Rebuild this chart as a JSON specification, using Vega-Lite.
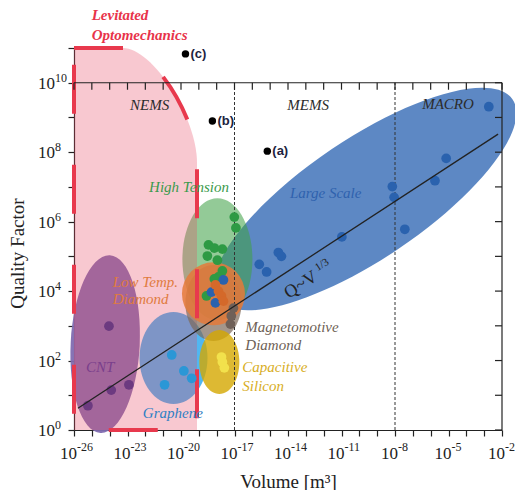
{
  "$schema": "https://vega.github.io/schema/vega-lite/v6.json",
  "width": 428,
  "height": 382,
  "autosize": {"type": "none"},
  "padding": {"left": 74, "top": 48, "right": 13, "bottom": 60},
  "background": "white",
  "config": {
    "view": {"stroke": null},
    "axis": {"grid": false, "domainColor": "#222", "tickColor": "#222", "labelColor": "#222", "titleColor": "#222", "labelFont": "Liberation Serif", "titleFont": "Liberation Serif", "titleFontWeight": "normal", "domainWidth": 1.2, "tickWidth": 1.2}
  },
  "datasets": {
    "ell": [
      {"k": "blue", "x": 2.09e-10, "y": 4.47e6},
      {"k": "green", "x": 1.10e-18, "y": 8.32e4},
      {"k": "graphene", "x": 3.80e-21, "y": 117.5},
      {"k": "cnt", "x": 5.62e-25, "y": 299},
      {"k": "pink", "x": 2.81e-23, "y": 3.162e5},
      {"k": "brown", "x": 6.61e-19, "y": 4.57e3},
      {"k": "orange", "x": 6.61e-19, "y": 8.32e3},
      {"k": "yellow", "x": 1.41e-18, "y": 91.2}
    ],
    "dots": [
      {"g": "cnt", "x": 9.12e-25, "y": 977},
      {"g": "cnt", "x": 1.23e-24, "y": 14.1},
      {"g": "cnt", "x": 1.20e-23, "y": 20.0},
      {"g": "cnt", "x": 6.03e-26, "y": 5.0},
      {"g": "graphene", "x": 3.02e-21, "y": 144.5},
      {"g": "graphene", "x": 1.445e-20, "y": 50.1},
      {"g": "graphene", "x": 3.98e-20, "y": 30.9},
      {"g": "graphene", "x": 1.20e-21, "y": 20.0},
      {"g": "green", "x": 9.77e-18, "y": 1.349e6},
      {"g": "green", "x": 1.20e-17, "y": 6.61e5},
      {"g": "green", "x": 3.47e-19, "y": 2.14e5},
      {"g": "green", "x": 7.41e-19, "y": 1.74e5},
      {"g": "green", "x": 2.09e-18, "y": 1.62e5},
      {"g": "green", "x": 3.02e-19, "y": 1.02e5},
      {"g": "green", "x": 1.10e-18, "y": 7.76e4},
      {"g": "green", "x": 2.09e-18, "y": 3.80e4},
      {"g": "green", "x": 1.26e-18, "y": 2.57e4},
      {"g": "green", "x": 7.41e-19, "y": 2.24e4},
      {"g": "green", "x": 2.69e-19, "y": 7.24e3},
      {"g": "blue", "x": 5.13e-19, "y": 9.33e3},
      {"g": "blue", "x": 8.51e-19, "y": 4.57e3},
      {"g": "blue", "x": 2.40e-18, "y": 2.09e4},
      {"g": "blue", "x": 2.45e-16, "y": 5.89e4},
      {"g": "blue", "x": 6.31e-16, "y": 3.55e4},
      {"g": "blue", "x": 2.88e-15, "y": 1.29e5},
      {"g": "blue", "x": 4.27e-15, "y": 1.0e5},
      {"g": "blue", "x": 1.047e-11, "y": 3.63e5},
      {"g": "blue", "x": 7.08e-9, "y": 1.02e7},
      {"g": "blue", "x": 8.91e-9, "y": 5.01e6},
      {"g": "blue", "x": 3.55e-8, "y": 6.03e5},
      {"g": "blue", "x": 1.74e-6, "y": 1.51e7},
      {"g": "blue", "x": 7.41e-6, "y": 6.61e7},
      {"g": "blue", "x": 1.82e-3, "y": 2.04e9},
      {"g": "orange", "x": 8.51e-19, "y": 1.51e4},
      {"g": "orange", "x": 1.26e-18, "y": 1.0e4},
      {"g": "orange", "x": 1.86e-18, "y": 7.24e3},
      {"g": "orange", "x": 2.40e-18, "y": 5.13e3},
      {"g": "brown", "x": 8.71e-18, "y": 3.24e3},
      {"g": "brown", "x": 6.61e-18, "y": 1.91e3},
      {"g": "brown", "x": 5.89e-18, "y": 1.12e3},
      {"g": "yellow", "x": 1.86e-18, "y": 126},
      {"g": "yellow", "x": 2.09e-18, "y": 91.2},
      {"g": "yellow", "x": 2.69e-18, "y": 61.7}
    ],
    "blk": [
      {"t": "(a)", "x": 6.92e-16, "y": 1.07e8},
      {"t": "(b)", "x": 5.75e-19, "y": 7.94e8},
      {"t": "(c)", "x": 1.78e-20, "y": 6.76e10}
    ],
    "labC": [
      {"t": "NEMS", "g": "nems", "x": 1.74e-22, "y": 2.29e9},
      {"t": "MEMS", "g": "nems", "x": 1.35e-13, "y": 2.29e9},
      {"t": "MACRO", "g": "nems", "x": 9.33e-6, "y": 2.45e9},
      {"t": "High Tension", "g": "green", "x": 2.82e-20, "y": 1e7},
      {"t": "Large Scale", "g": "blue", "x": 1.29e-12, "y": 6.6e6},
      {"t": "CNT", "g": "cnt", "x": 2.95e-25, "y": 66},
      {"t": "Graphene", "g": "graphene", "x": 3.47e-21, "y": 3.16}
    ],
    "labL": [
      {"t": "Low Temp.", "g": "orange", "x": 1.48e-24, "y": 1.86e4},
      {"t": "Diamond", "g": "orange", "x": 1.48e-24, "y": 5.75e3},
      {"t": "Magnetomotive", "g": "brown", "x": 4.07e-17, "y": 933},
      {"t": "Diamond", "g": "brown", "x": 4.07e-17, "y": 282},
      {"t": "Capacitive", "g": "yellow", "x": 2.75e-17, "y": 64.6},
      {"t": "Silicon", "g": "yellow", "x": 2.75e-17, "y": 19.1}
    ],
    "lev": [
      {"t": "Levitated", "x": 9.77e-26, "y": 8.9e11},
      {"t": "Optomechanics", "x": 9.77e-26, "y": 2.35e11}
    ],
    "xl": [
      {"x": 1e-26, "y": 1, "e": "-26"}, {"x": 1e-23, "y": 1, "e": "-23"}, {"x": 1e-20, "y": 1, "e": "-20"},
      {"x": 1e-17, "y": 1, "e": "-17"}, {"x": 1e-14, "y": 1, "e": "-14"}, {"x": 1e-11, "y": 1, "e": "-11"},
      {"x": 1e-8, "y": 1, "e": "-8"}, {"x": 1e-5, "y": 1, "e": "-5"}, {"x": 1e-2, "y": 1, "e": "-2"}
    ],
    "yl": [
      {"x": 1e-26, "y": 1, "e": "0"}, {"x": 1e-26, "y": 100, "e": "2"}, {"x": 1e-26, "y": 1e4, "e": "4"},
      {"x": 1e-26, "y": 1e6, "e": "6"}, {"x": 1e-26, "y": 1e8, "e": "8"}, {"x": 1e-26, "y": 1e10, "e": "10"}
    ],
    "tt": [
      {"x": 1e-26, "y": 1e10}, {"x": 1e-25, "y": 1e10}, {"x": 1e-24, "y": 1e10}, {"x": 1e-23, "y": 1e10}, {"x": 1e-22, "y": 1e10},
      {"x": 1e-21, "y": 1e10}, {"x": 1e-20, "y": 1e10}, {"x": 1e-19, "y": 1e10}, {"x": 1e-18, "y": 1e10}, {"x": 1e-17, "y": 1e10},
      {"x": 1e-16, "y": 1e10}, {"x": 1e-15, "y": 1e10}, {"x": 1e-14, "y": 1e10}, {"x": 1e-13, "y": 1e10}, {"x": 1e-12, "y": 1e10},
      {"x": 1e-11, "y": 1e10}, {"x": 1e-10, "y": 1e10}, {"x": 1e-9, "y": 1e10}, {"x": 1e-8, "y": 1e10}, {"x": 1e-7, "y": 1e10},
      {"x": 1e-6, "y": 1e10}, {"x": 1e-5, "y": 1e10}, {"x": 1e-4, "y": 1e10}, {"x": 1e-3, "y": 1e10}, {"x": 1e-2, "y": 1e10}
    ],
    "rt": [
      {"x": 0.01, "y": 1}, {"x": 0.01, "y": 10}, {"x": 0.01, "y": 100}, {"x": 0.01, "y": 1000}, {"x": 0.01, "y": 1e4}, {"x": 0.01, "y": 1e5},
      {"x": 0.01, "y": 1e6}, {"x": 0.01, "y": 1e7}, {"x": 0.01, "y": 1e8}, {"x": 0.01, "y": 1e9}, {"x": 0.01, "y": 1e10}
    ]
  },
  "encoding": {
    "x": {
      "field": "x", "type": "quantitative",
      "scale": {"type": "log", "domain": [1e-26, 0.01], "nice": false},
      "axis": {
        "values": [1e-26, 1e-25, 1e-24, 1e-23, 1e-22, 1e-21, 1e-20, 1e-19, 1e-18, 1e-17, 1e-16, 1e-15, 1e-14, 1e-13, 1e-12, 1e-11, 1e-10, 1e-9, 1e-8, 1e-7, 1e-6, 1e-5, 1e-4, 1e-3, 1e-2],
        "tickSize": 6, "labels": false,
        "title": "Volume [m³]", "titleFontSize": 19, "titleBaseline": "alphabetic", "titleY": 57
      }
    },
    "y": {
      "field": "y", "type": "quantitative",
      "scale": {"type": "log", "domain": [1, 1e11], "nice": false},
      "axis": {
        "values": [1, 10, 100, 1000, 1e4, 1e5, 1e6, 1e7, 1e8, 1e9, 1e10, 1e11],
        "tickSize": 6, "labels": false,
        "title": "Quality Factor", "titleFontSize": 19, "titleBaseline": "alphabetic", "titleX": -51, "titleY": 205
      }
    }
  },
  "layer": [
    {"data": {"name": "ell"}, "transform": [{"filter": "datum.k=='blue'"}],
     "mark": {"type": "point", "shape": "M1,0C1,0.1861 0.5523,0.337 0,0.337C-0.5523,0.337 -1,0.1861 -1,0C-1,-0.1861 -0.5523,-0.337 0,-0.337C0.5523,-0.337 1,-0.1861 1,0Z", "size": 126736, "angle": -34, "filled": true, "color": "#2f66b3", "opacity": 0.78}},
    {"data": {"name": "ell"}, "transform": [{"filter": "datum.k=='green'"}],
     "mark": {"type": "point", "shape": "M0.574,0C0.574,0.5523 0.317,1 0,1C-0.317,1 -0.574,0.5523 -0.574,0C-0.574,-0.5523 -0.317,-1 0,-1C0.317,-1 0.574,-0.5523 0.574,0Z", "size": 14884, "filled": true, "color": "#3fa046", "opacity": 0.56}},
    {"data": {"name": "ell"}, "transform": [{"filter": "datum.k=='graphene'"}],
     "mark": {"type": "point", "shape": "M0.739,0C0.739,0.5523 0.408,1 0,1C-0.408,1 -0.739,0.5523 -0.739,0C-0.739,-0.5523 -0.408,-1 0,-1C0.408,-1 0.739,-0.5523 0.739,0Z", "size": 8464, "filled": true, "color": "#33aaee", "opacity": 0.85}},
    {"data": {"name": "ell"}, "transform": [{"filter": "datum.k=='cnt'"}],
     "mark": {"type": "point", "shape": "M0.388,0C0.388,0.5523 0.214,1 0,1C-0.214,1 -0.388,0.5523 -0.388,0C-0.388,-0.5523 -0.214,-1 0,-1C0.214,-1 0.388,-0.5523 0.388,0Z", "size": 31684, "angle": 3, "filled": true, "color": "#7f6bb0", "opacity": 0.95}},
    {"data": {"name": "ell"}, "transform": [{"filter": "datum.k=='pink'"}],
     "mark": {"type": "point", "shape": "M-0.322,-1L-0.066,-1C0.089,-1 0.322,-0.639 0.322,-0.398L0.322,1L-0.322,1Z", "size": 145924, "filled": true, "color": "#e84862", "opacity": 0.3}},
    {"data": {"name": "ell"}, "transform": [{"filter": "datum.k=='brown'"}],
     "mark": {"type": "point", "shape": "M0.739,0C0.739,0.5523 0.408,1 0,1C-0.408,1 -0.739,0.5523 -0.739,0C-0.739,-0.5523 -0.408,-1 0,-1C0.408,-1 0.739,-0.5523 0.739,0Z", "size": 5776, "filled": true, "color": "#7d6a5a", "opacity": 0.7}},
    {"data": {"name": "ell"}, "transform": [{"filter": "datum.k=='orange'"}],
     "mark": {"type": "point", "shape": "circle", "size": 3969, "filled": true, "color": "#e57a3a", "opacity": 0.85}},
    {"data": {"name": "ell"}, "transform": [{"filter": "datum.k=='yellow'"}],
     "mark": {"type": "point", "shape": "M0.625,0C0.625,0.5523 0.345,1 0,1C-0.345,1 -0.625,0.5523 -0.625,0C-0.625,-0.5523 -0.345,-1 0,-1C0.345,-1 0.625,-0.5523 0.625,0Z", "size": 4096, "filled": true, "color": "#d4a800", "opacity": 0.8}},
    {"data": {"name": "ell"}, "transform": [{"filter": "datum.k=='pink'"}],
     "mark": {"type": "point", "shape": "M-0.322,-1L-0.066,-1C0.089,-1 0.322,-0.639 0.322,-0.398L0.322,1L-0.322,1Z", "size": 145924, "filled": false, "color": "#e8394d", "strokeWidth": 4, "strokeDash": [49, 51], "opacity": 1}},
    {"data": {"values": [{"x": 1e-17, "y": 1, "y2": 1e10}, {"x": 1e-8, "y": 1, "y2": 1e10}]},
     "mark": {"type": "rule", "color": "#333", "strokeWidth": 1, "strokeDash": [3, 2]},
     "encoding": {"y2": {"field": "y2"}}},
    {"data": {"values": [{"x": 1e-26, "x2": 0.01, "y": 1e10}]},
     "mark": {"type": "rule", "color": "#222", "strokeWidth": 1.2},
     "encoding": {"x2": {"field": "x2"}}},
    {"data": {"values": [{"x": 0.01, "y": 1, "y2": 1e10}]},
     "mark": {"type": "rule", "color": "#222", "strokeWidth": 1.2},
     "encoding": {"y2": {"field": "y2"}}},
    {"data": {"name": "tt"},
     "mark": {"type": "tick", "orient": "vertical", "size": 7, "thickness": 1.2, "yOffset": 3.5, "color": "#222", "opacity": 1}},
    {"data": {"name": "rt"},
     "mark": {"type": "tick", "orient": "horizontal", "size": 7, "thickness": 1.2, "xOffset": -3.5, "color": "#222", "opacity": 1}},
    {"data": {"name": "xl"},
     "mark": {"type": "text", "text": "10", "align": "right", "baseline": "alphabetic", "dx": 3, "dy": 29, "font": "Liberation Serif", "fontSize": 17, "color": "#222"}},
    {"data": {"name": "xl"},
     "mark": {"type": "text", "align": "left", "baseline": "alphabetic", "dx": 3, "dy": 21, "font": "Liberation Serif", "fontSize": 12, "color": "#222"},
     "encoding": {"text": {"field": "e"}}},
    {"data": {"name": "yl"},
     "mark": {"type": "text", "text": "10", "align": "right", "baseline": "alphabetic", "dx": -19, "dy": 6, "font": "Liberation Serif", "fontSize": 17, "color": "#222"}},
    {"data": {"name": "yl"},
     "mark": {"type": "text", "align": "left", "baseline": "alphabetic", "dx": -19, "dy": -1, "font": "Liberation Serif", "fontSize": 12, "color": "#222"},
     "encoding": {"text": {"field": "e"}}},
    {"data": {"name": "dots"},
     "mark": {"type": "point", "shape": "circle", "filled": true, "size": 95, "opacity": 1},
     "encoding": {"color": {"field": "g", "type": "nominal", "legend": null,
       "scale": {"domain": ["cnt", "graphene", "green", "blue", "orange", "brown", "yellow"], "range": ["#6c3a80", "#2b97d6", "#2e9a44", "#2a62ae", "#d4692a", "#6f6058", "#f2e14c"]}}}},
    {"data": {"values": [{"x": 1.66e-26, "y": 4.22}, {"x": 6.03e-3, "y": 3.31e8}]},
     "mark": {"type": "line", "color": "#222", "strokeWidth": 1.3}},
    {"data": {"name": "blk"},
     "mark": {"type": "point", "shape": "circle", "filled": true, "size": 55, "color": "#000", "opacity": 1}},
    {"data": {"name": "blk"},
     "mark": {"type": "text", "align": "left", "baseline": "middle", "dx": 5, "font": "Liberation Sans", "fontWeight": "bold", "fontSize": 13, "color": "#1c2340"},
     "encoding": {"text": {"field": "t"}}},
    {"data": {"name": "labC"},
     "mark": {"type": "text", "align": "center", "baseline": "middle", "font": "Liberation Serif", "fontStyle": "italic", "fontSize": 15},
     "encoding": {"text": {"field": "t"}, "fill": {"field": "g", "type": "nominal", "legend": null,
       "scale": {"domain": ["nems", "green", "blue", "cnt", "graphene", "orange", "brown", "yellow"], "range": ["#2b2b2b", "#3b9a4c", "#2f62ae", "#7a3f8c", "#2f80c4", "#e07b3e", "#6e5f56", "#d8ae1f"]}}}},
    {"data": {"name": "labL"},
     "mark": {"type": "text", "align": "left", "baseline": "middle", "font": "Liberation Serif", "fontStyle": "italic", "fontSize": 15},
     "encoding": {"text": {"field": "t"}, "fill": {"field": "g", "type": "nominal", "legend": null}}},
    {"data": {"name": "lev"},
     "mark": {"type": "text", "align": "left", "baseline": "middle", "font": "Liberation Serif", "fontStyle": "italic", "fontWeight": "bold", "fontSize": 15, "color": "#e8334a"},
     "encoding": {"text": {"field": "t"}}},
    {"data": {"values": [{"t": "Q~V", "x": 5.37e-14, "y": 1.5e4}]},
     "mark": {"type": "text", "align": "center", "baseline": "middle", "font": "Liberation Serif", "fontSize": 18, "angle": -33, "color": "#222"},
     "encoding": {"text": {"field": "t"}}},
    {"data": {"values": [{"t": "1/3", "x": 8.05e-13, "y": 5.64e4}]},
     "mark": {"type": "text", "align": "center", "baseline": "middle", "font": "Liberation Serif", "fontSize": 11, "angle": -33, "color": "#222"},
     "encoding": {"text": {"field": "t"}}}
  ]
}
